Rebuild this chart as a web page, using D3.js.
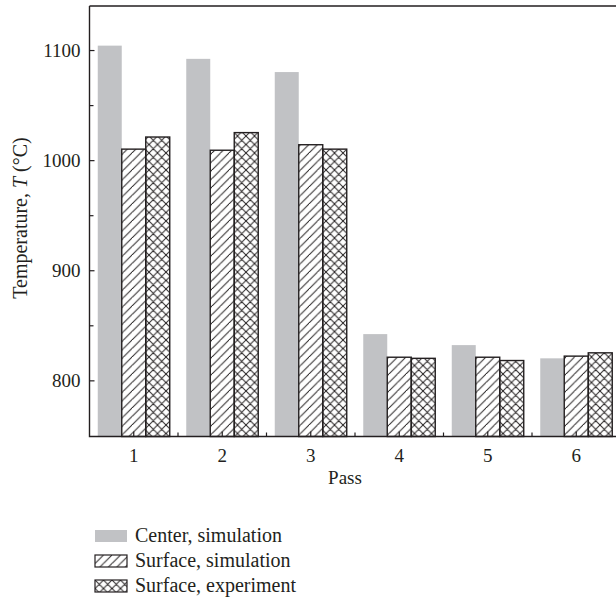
<!DOCTYPE html>
<html>
<head>
<meta charset="utf-8">
<title>Pass temperature</title>
<style>
  body { margin: 0; background: #fff; }
  text { font-family: "Liberation Serif", "DejaVu Serif", serif; fill: #231f20; }
</style>
</head>
<body>
<svg width="616" height="601"></svg>
<script src="https://cdnjs.cloudflare.com/ajax/libs/d3/7.8.5/d3.min.js"></script>
<script>
const passes = ['1', '2', '3', '4', '5', '6'];
const seriesNames = ['Center, simulation', 'Surface, simulation', 'Surface, experiment'];
const centerSim = [1104, 1092, 1080, 842, 832, 820];
const surfaceSim = [1010, 1009, 1014, 821, 821, 822];
const surfaceExp = [1021, 1025, 1010, 820, 818, 825];
const yTicks = [800, 900, 1000, 1100];

const svg = d3.select('svg');
const plotL = 89.5, plotR = 620.5, plotT = 6, plotB = 436.5;

const x = d3.scaleBand().domain(passes).range([plotL, plotR]).padding(0);
const xs = d3.scaleBand().domain(seriesNames).range([0, x.bandwidth()]).paddingInner(0).paddingOuter(0.344);
const y = d3.scaleLinear().domain([749, 1140]).range([plotB, plotT]);

// patterns
const defs = svg.append('defs');
const hatch = defs.append('pattern').attr('id', 'hatch').attr('patternUnits', 'userSpaceOnUse')
  .attr('width', 8.5).attr('height', 8.5);
hatch.append('path').attr('d', 'M-1,9.5 L9.5,-1 M-2,1.5 L1.5,-2 M7,10 L10,7')
  .attr('stroke', '#231f20').attr('stroke-width', 1);
const cross = defs.append('pattern').attr('id', 'cross').attr('patternUnits', 'userSpaceOnUse')
  .attr('width', 8.5).attr('height', 8.5);
cross.append('path').attr('d', 'M-1,9.5 L9.5,-1 M-1,-1 L9.5,9.5 M-2,1.5 L1.5,-2 M7,10 L10,7 M7,-1.5 L10,1.5 M-1.5,7 L1.5,10')
  .attr('stroke', '#231f20').attr('stroke-width', 1);

const fills = ['#c1c2c5', 'url(#hatch)', 'url(#cross)'];
const strokes = ['none', '#231f20', '#231f20'];
const values = [centerSim, surfaceSim, surfaceExp];

const rows = passes.map((p, i) => ({ pass: p, vals: seriesNames.map((s, k) => ({ s, k, v: values[k][i] })) }));

const groups = svg.append('g').selectAll('g').data(rows).join('g')
  .attr('transform', d => `translate(${x(d.pass)},0)`);
groups.selectAll('rect').data(d => d.vals).join('rect')
  .attr('x', d => xs(d.s))
  .attr('y', d => y(d.v))
  .attr('width', xs.bandwidth())
  .attr('height', d => y(749) - y(d.v))
  .attr('fill', d => fills[d.k])
  .attr('stroke', d => strokes[d.k])
  .attr('stroke-width', 1.4);

// frame
svg.append('path')
  .attr('d', `M${plotL},${plotT} H${plotR} M${plotL},${plotT} V${plotB} H${plotR}`)
  .attr('fill', 'none').attr('stroke', '#231f20').attr('stroke-width', 1.4);

// y axis
const yAxis = svg.append('g').attr('transform', `translate(${plotL},0)`)
  .call(d3.axisLeft(y).tickValues(yTicks).tickSizeInner(-5).tickSizeOuter(0).tickPadding(9).tickFormat(d3.format('d')));
yAxis.select('.domain').remove();
yAxis.selectAll('line').attr('stroke', '#231f20').attr('stroke-width', 1.2);
yAxis.selectAll('text').attr('font-size', 19).attr('font-family', '"Liberation Serif", serif').attr('fill', '#231f20');
svg.append('g').attr('transform', `translate(${plotL},0)`)
  .call(d3.axisLeft(y).tickValues([850, 950, 1050]).tickSize(-4).tickFormat(''))
  .call(g => g.select('.domain').remove())
  .selectAll('line').attr('stroke', '#231f20').attr('stroke-width', 1.2);

// x axis
const xAxis = svg.append('g').attr('transform', `translate(0,${plotB})`)
  .call(d3.axisBottom(x).tickSizeInner(-5).tickSizeOuter(0).tickPadding(12));
xAxis.select('.domain').remove();
xAxis.selectAll('line').attr('stroke', '#231f20').attr('stroke-width', 1.2);
xAxis.selectAll('text').attr('font-size', 19).attr('font-family', '"Liberation Serif", serif').attr('fill', '#231f20');
svg.append('g').selectAll('line').data(passes.slice(1)).join('line')
  .attr('x1', d => x(d)).attr('x2', d => x(d))
  .attr('y1', plotB).attr('y2', plotB - 4)
  .attr('stroke', '#231f20').attr('stroke-width', 1.2);

// axis titles
svg.append('text').attr('x', (plotL + plotR) / 2 - 10).attr('y', 484)
  .attr('text-anchor', 'middle').attr('font-size', 19).text('Pass');
const yt = svg.append('text').attr('transform', 'translate(27,218) rotate(-90)')
  .attr('text-anchor', 'middle').attr('font-size', 20);
yt.append('tspan').text('Temperature, ');
yt.append('tspan').attr('font-style', 'italic').text('T');
yt.append('tspan').text(' (°C)');

// legend
const lg = svg.append('g').selectAll('g').data(seriesNames).join('g')
  .attr('transform', (d, i) => `translate(95,${530 + i * 25})`);
lg.append('rect').attr('width', 32).attr('height', 12)
  .attr('fill', (d, i) => fills[i]).attr('stroke', (d, i) => strokes[i]).attr('stroke-width', 1.2);
lg.append('text').attr('x', 40).attr('y', 11.5).attr('font-size', 20).text(d => d);
</script>
</body>
</html>
